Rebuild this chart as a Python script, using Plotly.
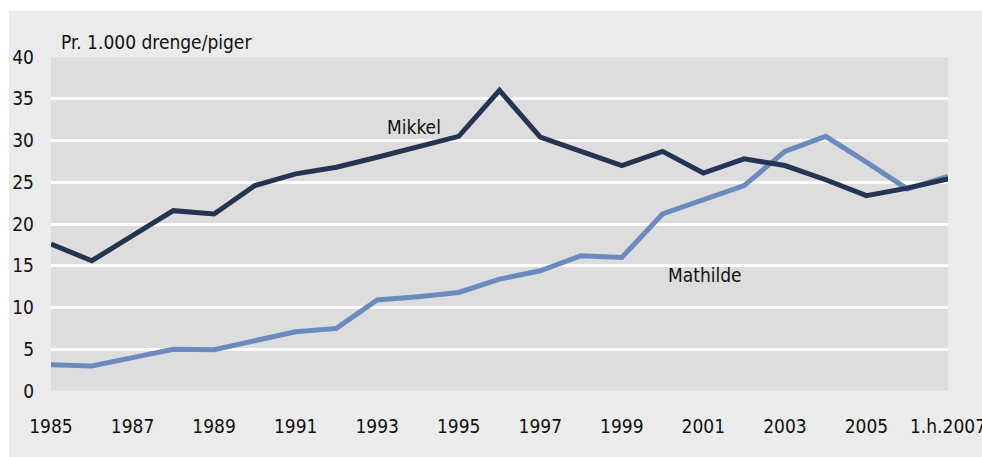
import plotly.graph_objects as go

categories = ["1985", "1986", "1987", "1988", "1989", "1990", "1991", "1992",
              "1993", "1994", "1995", "1996", "1997", "1998", "1999", "2000",
              "2001", "2002", "2003", "2004", "2005", "2006", "1.h.2007"]
mikkel = [17.6, 15.6, 18.6, 21.6, 21.2, 24.6, 26.0, 26.8, 28.0, 29.3, 30.5, 36.0,
          30.4, 28.7, 27.0, 28.7, 26.1, 27.8, 27.0, 25.3, 23.4, 24.3, 25.4]
mathilde = [3.15, 3.0, 4.0, 5.0, 4.95, 6.1, 7.1, 7.5, 10.9, 11.3, 11.8, 13.4,
            14.4, 16.2, 16.0, 21.2, 22.9, 24.6, 28.7, 30.5, 27.4, 24.2, 25.7]
tick_labels = ["1985", "1987", "1989", "1991", "1993", "1995", "1997", "1999",
               "2001", "2003", "2005", "1.h.2007"]
y_ticks = [0, 5, 10, 15, 20, 25, 30, 35, 40]

idx = list(range(len(categories)))
tick_idx = [categories.index(t) for t in tick_labels]

FONT = "DejaVu Sans Condensed, Liberation Sans, Arial, sans-serif"
FS = 19

fig = go.Figure()
fig.add_trace(go.Scatter(x=idx, y=mathilde, mode="lines", name="Mathilde",
                         line=dict(color="#6b8bbf", width=5), hoverinfo="skip"))
fig.add_trace(go.Scatter(x=idx, y=mikkel, mode="lines", name="Mikkel",
                         line=dict(color="#243553", width=5), hoverinfo="skip"))

W, H = 982, 457
L, R, T, B = 51, 34, 57, 66
pw, ph = W - L - R, H - T - B

def px(x):
    return (x - L) / pw

def py(y):
    return (H - B - y) / ph

fig.add_shape(type="rect", xref="paper", yref="paper",
              x0=px(9), x1=px(990), y0=py(470), y1=py(11),
              fillcolor="#ebebeb", line_width=0, layer="below")
fig.add_shape(type="rect", xref="paper", yref="paper",
              x0=0, x1=1, y0=0, y1=1,
              fillcolor="#dddddd", line_width=0, layer="below")

fig.add_annotation(text="Pr. 1.000 drenge/piger", xref="paper", yref="paper",
                   x=px(59), y=py(42), xanchor="left", yanchor="middle",
                   showarrow=False, font=dict(size=FS, color="#111111", family=FONT))
fig.add_annotation(text="Mikkel", x=8.9, y=31.6, showarrow=False,
                   font=dict(size=FS, color="#111111", family=FONT))
fig.add_annotation(text="Mathilde", x=16.05, y=13.9, showarrow=False,
                   font=dict(size=FS, color="#111111", family=FONT))

fig.update_layout(
    width=W, height=H,
    margin=dict(l=L, r=R, t=T, b=B, autoexpand=False),
    paper_bgcolor="white",
    plot_bgcolor="rgba(0,0,0,0)",
    showlegend=False,
    font=dict(family=FONT, size=FS, color="#111111"),
    xaxis=dict(range=[0, len(categories) - 1], tickvals=tick_idx, ticktext=tick_labels,
               showgrid=False, zeroline=False, showline=False, ticks="",
               automargin=False,
               ticklabelstandoff=22, ticklabeloverflow="allow", tickfont=dict(size=FS)),
    yaxis=dict(range=[0, 40], tickvals=y_ticks, showgrid=True, gridcolor="white",
               gridwidth=2.5, zeroline=False, showline=False, ticks="",
               automargin=False,
               ticklabelstandoff=16, tickfont=dict(size=FS)),
)

fig.write_html("out.html",
               config={"displayModeBar": False},
               post_script="document.body.style.margin='0';"
                           "document.body.style.overflow='hidden';")
